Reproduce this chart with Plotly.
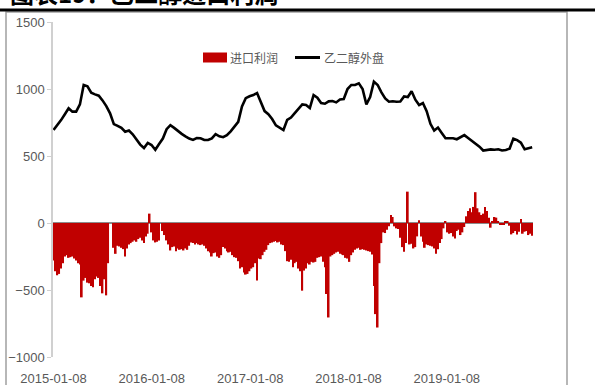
import pandas as pd
import plotly.graph_objects as go

# Weekly import margin (进口利润), starting 2015-01-08
profit_dates = pd.date_range("2015-01-08", periods=255, freq="7D")
profit = [
    -280, -360, -390, -380, -340, -300, -250, -240, -260, -255,
    -250, -265, -280, -300, -310, -555, -430, -410, -445, -450,
    -470, -480, -420, -400, -410, -470, -525, -420, -540, -300,
    0, 0, -185, -230, -170, -175, -185, -195, -250, -190,
    -160, -150, -140, -130, -140, -120, -110, -130, -150, -100,
    -80, 70, -70, -130, -145, -140, -130, 0, -60, -90,
    -130, -160, -205, -180, -175, -210, -190, -200, -195, -205,
    -190, -200, -170, -145, -150, -160, -150, -160, -165, -160,
    -170, -190, -210, -220, -250, -225, -220, -250, -260, -240,
    -180, -190, -210, -220, -215, -240, -255, -260, -285, -340,
    -330, -370, -385, -380, -360, -340, -330, -300, -430, -265,
    -270, -240, -215, -200, -165, -150, -145, -140, -135, -145,
    -140, -160, -165, -210, -285, -290, -275, -330, -300, -290,
    -340, -360, -505, -355, -340, -300, -310, -290, -295, -290,
    -260, -255, -250, -290, -330, -530, -705, -250, -240, -230,
    -220, -215, -230, -235, -240, -260, -265, -290, -240, -220,
    -200, -190, -185, -200, -195, -200, -205, -210, -215, -235,
    -470, -680, -780, -300, -150, -70, -75, -50, -25, 60,
    45, -25, -40, -45, -110, -180, -215, -150, 234, -160,
    -155, -190, -180, -100, 20, -100, -140, -185, -160, -165,
    -170, -175, -190, -230, -195, -150, -120, -40, 10, -70,
    -80, -75, -100, -115, -60, -50, -90, -70, -30, 50,
    90, 110, 80, 120, 230, 110, 80, 60, 70, 120,
    90, 40, -35, 10, 45, 40, 10, -10, -15, -10,
    15, 10, -20, -85, -75, -60, -85, -65, 30, -80,
    -65, -60, -90, -80, -95,
]

# Fortnightly ethylene glycol outer-market price (乙二醇外盘)
price_dates = pd.date_range("2015-01-08", periods=128, freq="14D")
price = [
    694, 728, 768, 812, 856, 831, 831, 885, 1030, 1020,
    972, 960, 950, 915, 872, 818, 738, 725, 710, 681,
    690, 662, 625, 585, 560, 598, 582, 547, 590, 630,
    700, 730, 710, 685, 665, 647, 630, 620, 633, 632,
    619, 619, 632, 663, 647, 640, 655, 684, 724, 755,
    870, 932, 946, 955, 970, 902, 835, 812, 776, 729,
    709, 694, 770, 787, 820, 852, 885, 880, 858, 955,
    935, 895, 890, 908, 910, 900, 922, 925, 1000, 1030,
    1030, 1042, 1000, 885, 940, 1055, 1030, 975, 930, 905,
    908, 905, 907, 945, 940, 983, 920, 880, 895, 835,
    740, 690, 712, 672, 632, 632, 632, 625, 642, 656,
    634, 612, 597, 570, 541, 545, 549, 547, 550, 541,
    545, 555, 630, 619, 600, 550, 555, 565,
]

x_ticks = ["2015-01-08", "2016-01-08", "2017-01-08", "2018-01-08", "2019-01-08"]
y_ticks = [-1000, -500, 0, 500, 1000, 1500]

title_text = "图表19：乙二醇进口利润"
profit_name = "进口利润"
price_name = "乙二醇外盘"

# page geometry (pixels)
W, H = 595, 385
L, R, T, B = 53, 533, 22, 357


def px_x(p):
    return (p - L) / (R - L)


def px_y(p):
    return (B - p) / (B - T)


num_font = "Liberation Sans Narrow, Arial Narrow, Liberation Sans, sans-serif"
cjk_font = "Noto Sans CJK SC, Noto Sans, sans-serif"
grey_txt = "#595959"
bar_red = "#c00000"

fig = go.Figure()
fig.add_trace(go.Bar(
    x=profit_dates, y=profit, name=profit_name,
    marker=dict(color=bar_red, line=dict(width=0)),
    showlegend=False,
))
fig.add_trace(go.Scatter(
    x=price_dates, y=price, name=price_name, mode="lines",
    line=dict(color="#000000", width=2.6),
    showlegend=False,
))

# legend drawn as key shapes plus labels
legend_y = 57.5
shapes = [
    # outer frame
    dict(type="rect", xref="paper", yref="paper",
         x0=px_x(6), x1=px_x(567), y0=px_y(395), y1=px_y(12),
         line=dict(color="#a0a0a0", width=1.5), layer="below"),
    # heading rule
    dict(type="line", xref="paper", yref="paper",
         x0=px_x(-5), x1=px_x(600), y0=px_y(10), y1=px_y(10),
         line=dict(color="#000000", width=3)),
    # key: bar swatch
    dict(type="rect", xref="paper", yref="paper",
         x0=px_x(203), x1=px_x(227), y0=px_y(legend_y + 5), y1=px_y(legend_y - 5),
         fillcolor=bar_red, line=dict(width=0)),
    # key: line sample
    dict(type="line", xref="paper", yref="paper",
         x0=px_x(295), x1=px_x(320), y0=px_y(legend_y), y1=px_y(legend_y),
         line=dict(color="#000000", width=3)),
]

annotations = [
    dict(text=title_text, xref="paper", yref="paper",
         x=px_x(8), y=px_y(12), xanchor="left", yanchor="bottom",
         showarrow=False,
         font=dict(family=cjk_font, size=24, color="#000000", weight="bold")),
    dict(text=profit_name, xref="paper", yref="paper",
         x=px_x(228), y=px_y(legend_y), xanchor="left", yanchor="middle",
         showarrow=False,
         font=dict(family=cjk_font, size=12, color=grey_txt)),
    dict(text=price_name, xref="paper", yref="paper",
         x=px_x(322), y=px_y(legend_y), xanchor="left", yanchor="middle",
         showarrow=False,
         font=dict(family=cjk_font, size=12, color=grey_txt)),
]

fig.update_layout(
    width=W, height=H,
    margin=dict(l=L, r=W - R, t=T, b=H - B, pad=0),
    paper_bgcolor="white", plot_bgcolor="white",
    bargap=0.1,
    showlegend=False,
    xaxis=dict(
        type="date", automargin=False,
        range=["2015-01-06", "2019-11-24"],
        tickmode="array", tickvals=x_ticks, ticktext=x_ticks,
        showline=False, showgrid=False, zeroline=False,
        ticks="outside", ticklen=9, tickcolor="rgba(0,0,0,0)",
        tickfont=dict(family=num_font, size=13, color=grey_txt),
    ),
    yaxis=dict(
        automargin=False,
        range=[-1000, 1500], tickmode="array", tickvals=y_ticks,
        showline=True, linecolor="#d0d0d0", linewidth=1.5,
        showgrid=False,
        zeroline=True, zerolinecolor="#8c8c8c", zerolinewidth=1.5,
        ticks="outside", ticklen=4, tickcolor="#d0d0d0",
        tickfont=dict(family=num_font, size=13, color=grey_txt),
    ),
    shapes=shapes,
    annotations=annotations,
)

fig.write_html("out.html")
